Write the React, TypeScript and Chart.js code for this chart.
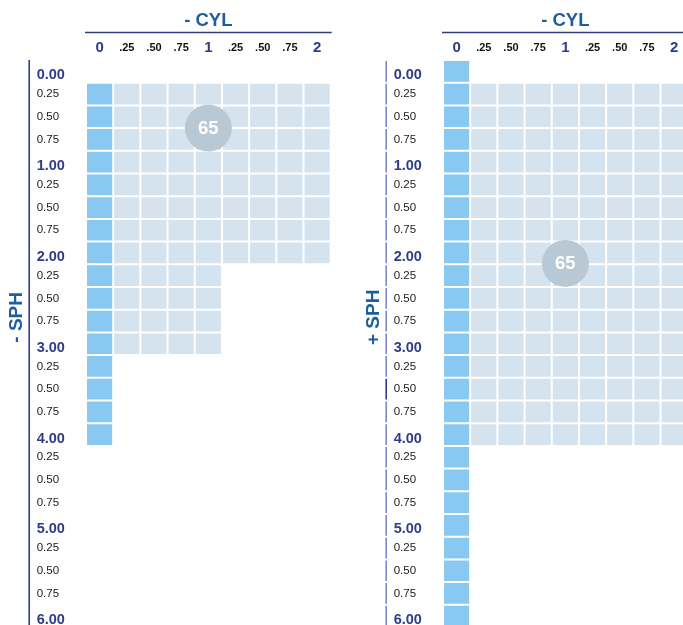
import React, { useEffect, useRef } from "react";
import { Chart, registerables } from "chart.js";

Chart.register(...registerables);

// ---- data ----
const cylLabels = ["0", ".25", ".50", ".75", "1", ".25", ".50", ".75", "2"];
const sphLabels = [
  "0.00", "0.25", "0.50", "0.75",
  "1.00", "0.25", "0.50", "0.75",
  "2.00", "0.25", "0.50", "0.75",
  "3.00", "0.25", "0.50", "0.75",
  "4.00", "0.25", "0.50", "0.75",
  "5.00", "0.25", "0.50", "0.75",
  "6.00",
];
// first/last filled SPH row index per CYL column
const minusFirstRow = [1, 1, 1, 1, 1, 1, 1, 1, 1];
const minusLastRow = [16, 12, 12, 12, 12, 8, 8, 8, 8];
const plusFirstRow = [0, 1, 1, 1, 1, 1, 1, 1, 1];
const plusLastRow = [24, 16, 16, 16, 16, 16, 16, 16, 16];
// badge value and its position (CYL label, SPH row position)
const badgeValue = "65";
const minusBadge = { x: "1", y: 2.5 };
const plusBadge = { x: "1", y: 8.46 };

// ---- styles ----
const FONT = "'Liberation Sans', Arial, Helvetica, sans-serif";
const BLUE_CELL = "#89c9f1";
const LIGHT_CELL = "#d4e3ee";
const BADGE = "#b8c8d4";
const TITLE_BLUE = "#1d5e9e";
const NAVY = "#2f3d85";

const PANEL_W = 357;
const PANEL_H = 640;

type PanelProps = {
  firstRow: number[];
  lastRow: number[];
  sphTitle: string;
  badge: { x: string; y: number };
  segmented: boolean;
  left: number;
};

function isMajorRow(i: number) {
  return i % 4 === 0;
}
function tickVal(ctx: any): number {
  return ctx && ctx.tick && typeof ctx.tick.value === "number" ? Math.round(ctx.tick.value) : 1;
}
function tickIdx(ctx: any): number {
  return ctx && typeof ctx.index === "number" ? ctx.index : 1;
}

function Panel({ firstRow, lastRow, sphTitle, badge, segmented, left }: PanelProps) {
  const ref = useRef<HTMLCanvasElement | null>(null);

  useEffect(() => {
    if (!ref.current) return;

    const rowDatasets = sphLabels.map((_, r) => ({
      type: "bar" as const,
      order: 1,
      data: cylLabels.map((_, c) =>
        r >= firstRow[c] && r <= lastRow[c] ? [r - 0.5, r + 0.5] : null
      ),
      backgroundColor: cylLabels.map((_, c) => (c === 0 ? BLUE_CELL : LIGHT_CELL)),
      borderColor: "#ffffff",
      borderWidth: 1,
      borderSkipped: false,
      grouped: false,
      barPercentage: 1,
      categoryPercentage: 1,
      inflateAmount: 0,
    }));

    const bubbleDataset = {
      type: "bubble" as const,
      order: 0,
      data: [{ x: badge.x, y: badge.y }],
      radius: 23.5,
      backgroundColor: BADGE,
      borderWidth: 0,
    };

    const decor = {
      id: "decor",
      afterDraw(chart: any) {
        const c = chart.ctx;
        const area = chart.chartArea;
        const ys = chart.scales.y;
        c.save();
        c.strokeStyle = NAVY;
        c.lineWidth = 1.6;
        c.beginPath();
        c.moveTo(area.left - 1, 32.5);
        c.lineTo(area.right + 1, 32.5);
        c.stroke();
        const lx = ys.left - 7.5;
        if (!segmented) {
          c.beginPath();
          c.moveTo(lx, area.top);
          c.lineTo(lx, chart.height);
          c.stroke();
        } else {
          sphLabels.forEach((_, i) => {
            const y0 = ys.getPixelForValue(i - 0.5) + 1;
            const y1 = ys.getPixelForValue(i + 0.5) - 1;
            c.strokeStyle = i === 14 ? NAVY : "#8089c6";
            c.beginPath();
            c.moveTo(lx, y0);
            c.lineTo(lx, y1);
            c.stroke();
          });
        }
        c.restore();
      },
      afterDatasetsDraw(chart: any) {
        const c = chart.ctx;
        const meta = chart.getDatasetMeta(chart.data.datasets.length - 1);
        const el = meta && meta.data ? meta.data[0] : null;
        if (!el) return;
        c.save();
        c.fillStyle = "#ffffff";
        c.font = `bold 18.5px ${FONT}`;
        c.textAlign = "center";
        c.textBaseline = "middle";
        c.fillText(badgeValue, el.x, el.y + 1);
        c.restore();
      },
    };

    const chart = new Chart(ref.current, {
      type: "bar",
      data: {
        labels: cylLabels,
        datasets: [...rowDatasets, bubbleDataset] as any,
      },
      options: {
        responsive: false,
        maintainAspectRatio: false,
        animation: false,
        devicePixelRatio: 1,
        events: [],
        layout: {
          autoPadding: false,
          padding: { left: 36.7, right: PANEL_W - 330.7, top: 0, bottom: PANEL_H - 627.5 },
        },
        plugins: { legend: { display: false }, tooltip: { enabled: false }, title: { display: false } },
        scales: {
          x: {
            type: "category",
            position: "top",
            offset: true,
            grid: { display: false },
            border: { display: false },
            afterFit: (s: any) => {
              s.height = 60;
              s.paddingLeft = 0;
              s.paddingRight = 0;
            },
            title: {
              display: true,
              text: "- CYL",
              color: TITLE_BLUE,
              font: { family: FONT, size: 18.5, weight: "bold" },
              padding: { top: 9.5, bottom: 0 },
            },
            ticks: {
              autoSkip: false,
              maxRotation: 0,
              padding: -3.5,
              color: (ctx: any) => (tickIdx(ctx) % 4 === 0 ? NAVY : "#111111"),
              font: (ctx: any) =>
                tickIdx(ctx) % 4 === 0
                  ? { family: FONT, size: 15, weight: "bold", lineHeight: "16px" }
                  : { family: FONT, size: 11, weight: "bold", lineHeight: "16px" },
            },
          },
          y: {
            type: "linear",
            min: -0.5,
            max: 24.5,
            reverse: true,
            grid: { display: false },
            border: { display: false },
            afterBuildTicks: (s: any) => {
              s.ticks = sphLabels.map((_, i) => ({ value: i }));
            },
            afterFit: (s: any) => {
              s.width = 86 - 36.7;
              s.paddingTop = 0;
              s.paddingBottom = 0;
            },
            title: {
              display: true,
              text: "          " + sphTitle,
              color: TITLE_BLUE,
              font: { family: FONT, size: 19, weight: "bold" },
              padding: { top: -31.5, bottom: 0 },
            },
            ticks: {
              autoSkip: false,
              crossAlign: "far",
              padding: 0,
              callback: (v: any) => {
                const i = Math.round(Number(v));
                const lbl = sphLabels[i];
                return isMajorRow(i) ? ["", lbl] : lbl;
              },
              color: (ctx: any) => (isMajorRow(tickVal(ctx)) ? NAVY : "#1a1a1a"),
              font: (ctx: any) =>
                isMajorRow(tickVal(ctx))
                  ? { family: FONT, size: 14.5, weight: "bold", lineHeight: "8px" }
                  : { family: FONT, size: 11.5, lineHeight: "14px" },
            },
          },
        },
      } as any,
      plugins: [decor],
    });

    return () => chart.destroy();
  }, [firstRow, lastRow, sphTitle, badge, segmented]);

  return (
    <div style={{ position: "absolute", left, top: 0, width: PANEL_W, height: PANEL_H }}>
      <canvas
        ref={ref}
        width={PANEL_W}
        height={PANEL_H}
        style={{ width: PANEL_W, height: PANEL_H, display: "block" }}
      />
    </div>
  );
}

export default function App() {
  return (
    <div
      style={{
        position: "fixed",
        left: 0,
        top: 0,
        width: 683,
        height: 625,
        overflow: "hidden",
        background: "#ffffff",
      }}
    >
      <Panel
        firstRow={minusFirstRow}
        lastRow={minusLastRow}
        sphTitle="- SPH"
        badge={minusBadge}
        segmented={false}
        left={0}
      />
      <Panel
        firstRow={plusFirstRow}
        lastRow={plusLastRow}
        sphTitle="+ SPH"
        badge={plusBadge}
        segmented={true}
        left={357.3}
      />
    </div>
  );
}
